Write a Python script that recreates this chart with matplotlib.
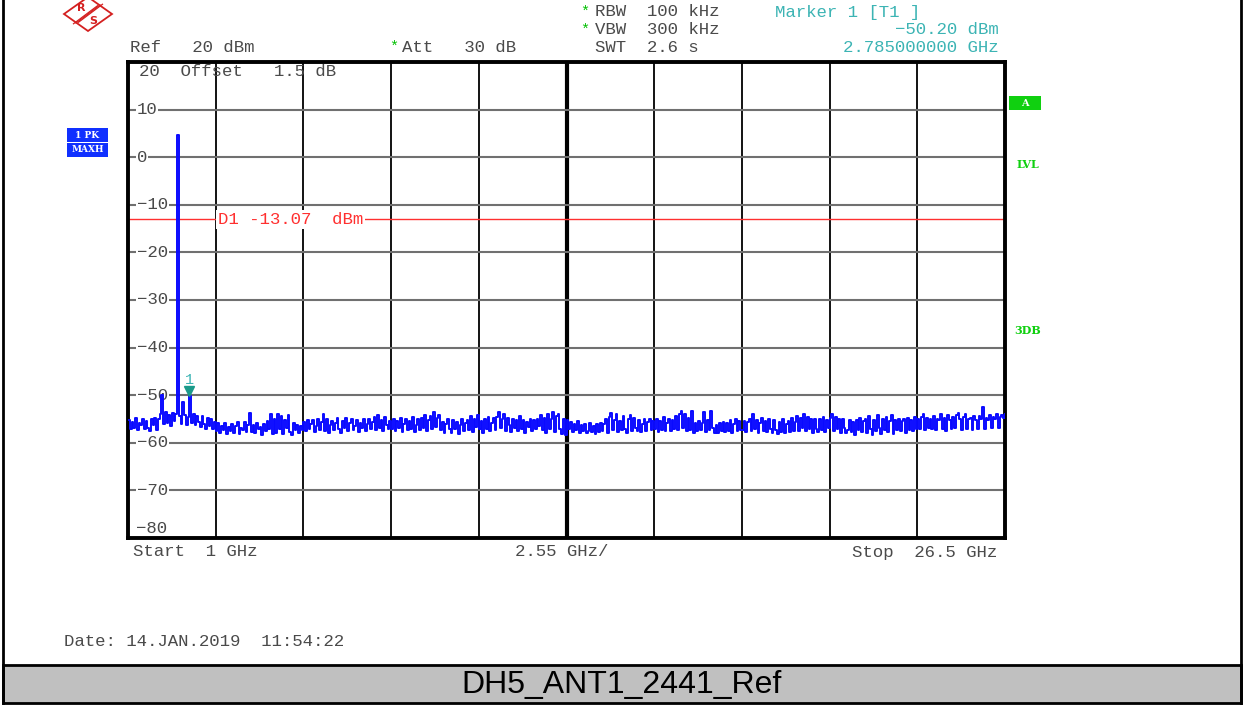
import numpy as np
import matplotlib
matplotlib.use("Agg")
import matplotlib.pyplot as plt
from matplotlib.patches import Rectangle, Polygon
import matplotlib.transforms as mtransforms

# sweep settings
f_start, f_stop = 1.0, 26.5          # GHz
n_points = 501
ref_level, bottom_level = 20, -80    # dBm
y_ticks = [10, 0, -10, -20, -30, -40, -50, -60, -70]
display_line = -13.07
marker_freq, marker_level = 2.785, -50.20

# MAXH trace, 501 sweep points (dBm)
trace = [
    -55.2, -57.1, -55.6, -56.9, -54.8, -57.4, -55.9, -56.3, -54.9, -57.0,
    -55.4, -56.8, -57.5, -55.1, -56.2, -54.7, -57.3, -55.0, -53.9, -50.0,
    -56.1, -53.6, -55.8, -54.2, -56.4, -53.8, -55.5, -54.0, 4.7, -54.3,
    -56.0, -51.4, -54.1, -56.2, -54.6, -50.2, -55.9, -53.9, -56.3, -54.4,
    -55.7, -56.6, -54.3, -56.1, -57.0, -54.8, -56.5, -55.1, -57.2, -55.6,
    -57.6, -55.9, -58.0, -56.4, -57.3, -55.8, -58.2, -56.7, -57.5, -56.0,
    -57.9, -56.5, -55.7, -58.1, -56.9, -57.4, -55.6, -57.8, -56.2, -53.7,
    -57.7, -56.3, -58.0, -55.9, -57.2, -56.6, -58.3, -56.1, -57.6, -55.4,
    -57.1, -54.0, -58.2, -55.0, -57.9, -53.9, -57.0, -54.4, -58.1, -55.3,
    -56.8, -54.2, -57.7, -58.3, -55.8, -57.4, -56.2, -58.0, -56.5, -57.3,
    -55.7, -57.6, -55.3, -57.1, -56.0, -55.2, -57.8, -56.4, -54.9, -57.3,
    -55.6, -53.9, -57.5, -55.0, -58.0, -56.2, -55.4, -57.4, -55.8, -54.8,
    -57.2, -57.9, -55.5, -56.8, -54.7, -57.6, -55.9, -55.1, -57.3, -56.5,
    -55.3, -57.7, -55.8, -56.9, -54.9, -57.5, -56.1, -55.0, -57.2, -55.7,
    -54.6, -57.4, -54.2, -56.8, -55.2, -57.6, -54.5, -56.3, -57.0, -55.4,
    -57.1, -55.0, -57.6, -55.4, -56.9, -54.8, -57.8, -56.0, -54.9, -57.3,
    -55.5, -57.2, -54.6, -57.7, -56.2, -55.1, -57.4, -54.7, -56.8, -54.2,
    -57.5, -55.3, -54.3, -57.0, -53.6, -56.6, -54.8, -54.1, -57.4, -55.6,
    -57.9, -56.1, -54.9, -57.2, -58.0, -55.3, -57.0, -55.7, -58.1, -56.2,
    -55.0, -57.6, -55.9, -55.2, -57.3, -54.3, -57.7, -54.9, -56.6, -54.1,
    -57.2, -55.4, -57.9, -55.0, -57.0, -54.6, -57.6, -55.8, -54.8, -57.4,
    -54.5, -53.6, -56.9, -55.1, -54.0, -57.5, -54.7, -56.3, -57.8, -55.0,
    -56.8, -55.3, -57.5, -54.4, -57.1, -55.2, -57.9, -55.6, -56.7, -54.9,
    -57.6, -55.2, -57.0, -54.9, -56.5, -54.2, -57.3, -54.7, -57.9, -54.0,
    -57.0, -55.1, -53.5, -57.7, -54.4, -53.9, -57.2, -58.2, -55.0, -58.4,
    -55.3, -57.2, -55.6, -57.7, -56.0, -57.4, -55.5, -57.9, -56.3, -57.5,
    -56.1, -58.0, -57.6, -55.9, -57.8, -56.4, -58.1, -56.0, -57.7, -55.8,
    -57.5, -56.0, -55.1, -57.9, -54.6, -53.8, -57.3, -55.2, -54.0, -57.8,
    -55.4, -57.4, -54.3, -57.1, -57.9, -55.0, -54.1, -57.6, -54.8, -56.9,
    -57.5, -55.3, -57.8, -56.0, -55.0, -57.6, -55.6, -54.9, -57.4, -55.5,
    -57.2, -55.0, -57.7, -55.4, -57.3, -54.6, -57.6, -55.8, -54.9, -57.5,
    -55.2, -57.1, -54.4, -57.4, -54.0, -53.3, -56.9, -53.9, -57.6, -54.8,
    -57.3, -53.4, -57.9, -55.8, -57.6, -55.4, -57.4, -55.9, -53.5, -57.7,
    -55.2, -57.3, -53.3, -56.8, -57.9, -56.2, -58.0, -55.9, -57.6, -55.6,
    -57.8, -55.9, -57.5, -55.3, -57.9, -56.0, -55.1, -57.6, -55.5, -57.3,
    -57.4, -55.4, -57.8, -55.7, -55.0, -57.5, -54.0, -57.2, -55.2, -57.9,
    -55.8, -54.8, -57.6, -55.5, -57.8, -54.9, -57.1, -57.9, -55.3, -57.4,
    -58.2, -55.6, -57.7, -55.0, -58.0, -56.1, -55.4, -57.8, -54.7, -57.5,
    -55.6, -54.3, -57.6, -54.8, -56.9, -53.9, -57.5, -54.6, -57.2, -55.1,
    -57.9, -54.9, -57.1, -57.8, -55.0, -57.3, -54.5, -57.7, -55.3, -56.9,
    -54.8, -53.9, -57.5, -54.6, -57.2, -55.0, -57.9, -54.9, -56.9, -58.0,
    -57.3, -55.2, -57.7, -55.6, -58.3, -55.3, -57.4, -54.7, -57.8, -55.5,
    -55.0, -57.9, -54.3, -57.2, -58.4, -55.2, -57.5, -54.1, -56.8, -58.1,
    -55.1, -57.4, -54.5, -57.8, -55.4, -54.2, -58.2, -55.3, -57.3, -54.9,
    -57.6, -55.5, -55.0, -57.9, -54.7, -57.3, -55.2, -57.5, -54.6, -57.0,
    -55.0, -57.2, -54.5, -53.9, -57.4, -54.8, -56.9, -55.1, -57.1, -54.4,
    -57.3, -54.9, -55.3, -54.0, -57.0, -54.7, -57.5, -54.2, -55.2, -57.2,
    -54.6, -56.9, -54.1, -53.8, -55.0, -57.3, -54.5, -53.9, -57.1, -55.1,
    -54.8, -57.4, -54.3, -55.2, -57.2, -54.4, -55.0, -52.5, -57.0, -54.7,
    -55.2, -54.2, -56.9, -54.6, -54.9, -54.0, -56.8, -54.5, -54.1, -54.7,
    -54.0,
]

W, H = 1244, 706
MONO = ["Liberation Mono", "DejaVu Sans Mono"]
TXT = "#4a4a4a"
TEAL = "#3cb4b4"
GREEN = "#10d010"
BLUE = "#1030ff"


def fx(px):
    return px / W


def fy(py):
    return 1 - py / H


fig = plt.figure(figsize=(W / 100, H / 100), dpi=100)
fig.patch.set_facecolor("white")

# plot area in pixels: x 128..1005, y 62..538
ax = fig.add_axes([fx(128), fy(538), fx(1005) - fx(128), fy(62) - fy(538)])
freq = np.linspace(f_start, f_stop, n_points)
ax.set_xlim(f_start, f_stop)
ax.set_ylim(bottom_level, ref_level)
ax.set_xticks([])
ax.set_yticks([])
for s in ax.spines.values():
    s.set_linewidth(2.8)
    s.set_color("black")

# grid
div = (f_stop - f_start) / 10
for i in range(1, 10):
    ax.axvline(f_start + i * div, color="black", lw=3.0 if i == 5 else 1.3, zorder=1)
for yv in y_ticks:
    ax.axhline(yv, color="#707070", lw=1.5, zorder=1)

# display line
ax.axhline(display_line, color="#ff3030", lw=1.0, zorder=2)
tr_px = mtransforms.blended_transform_factory(fig.transFigure, ax.transData)
ax.text(fx(218), display_line, "D1 -13.07  dBm", transform=tr_px,
        color="#ff3030", fontsize=12.5, family=MONO, va="center", ha="left",
        bbox=dict(facecolor="white", edgecolor="none", pad=1.5), zorder=3)

# trace
ax.step(freq, trace, where="post", color="#0a0aff", lw=1.4, zorder=4)

# marker 1
ax.plot([marker_freq], [marker_level + 1.0], marker="v", color="#1a9a8a",
        markersize=7, zorder=5, clip_on=False)
ax.text(marker_freq, marker_level + 3.4, "1", color=TEAL, fontsize=11,
        family=MONO, ha="center", va="center", zorder=5)

# level labels inside the grid
tr = mtransforms.blended_transform_factory(ax.transAxes, ax.transData)
for yv in y_ticks:
    lab = str(yv).replace("-", "\u2212")
    ax.text(0.010, yv, lab, transform=tr, fontsize=12.5, family=MONO,
            color=TXT, va="center", ha="left", zorder=3,
            bbox=dict(facecolor="white", edgecolor="none", pad=0.6))
ax.text(0.012, 18.1, "20  Offset   1.5 dB", transform=tr, fontsize=12.5,
        family=MONO, color=TXT, va="center", ha="left", zorder=3)
ax.text(0.009, -78.1, "\u221280", transform=tr, fontsize=12.5, family=MONO,
        color=TXT, va="center", ha="left", zorder=3)


def label(px, py, s, color=TXT, ha="left", size=12.5, **kw):
    fig.text(fx(px), fy(py), s, color=color, ha=ha, va="center",
             fontsize=size, family=MONO, **kw)


# header
label(130, 47, "Ref   20 dBm")
label(394, 47, "*", color="#00c000", ha="center", size=11)
label(402, 47, "Att   30 dB")
label(585, 12, "*", color="#00c000", ha="center", size=11)
label(595, 12, "RBW  100 kHz")
label(585, 30, "*", color="#00c000", ha="center", size=11)
label(595, 30, "VBW  300 kHz")
label(595, 47, "SWT  2.6 s")
label(775, 12, "Marker 1 [T1 ]", color=TEAL)
label(999, 30, "\u221250.20 dBm", color=TEAL, ha="right")
label(999, 47, "2.785000000 GHz", color=TEAL, ha="right")

# footer of the grid
label(133, 552, "Start  1 GHz")
label(515, 552, "2.55 GHz/")
label(997, 552, "Stop  26.5 GHz", ha="right")
label(64, 641, "Date: 14.JAN.2019  11:54:22")

# left status boxes
for py, s in [(135, "1 PK"), (150, "MAXH")]:
    fig.patches.append(Rectangle((fx(67), fy(py + 6.5)), fx(41), 13 / H,
                                 transform=fig.transFigure, facecolor=BLUE,
                                 edgecolor="none"))
    fig.text(fx(87.5), fy(py), s, color="white", ha="center", va="center",
             fontsize=6.5, family="DejaVu Serif", weight="bold")

# right side labels
fig.patches.append(Rectangle((fx(1009), fy(110)), fx(32), 14 / H,
                             transform=fig.transFigure, facecolor=GREEN,
                             edgecolor="none"))
fig.text(fx(1025), fy(103), "A", color="white", ha="center", va="center",
         fontsize=7, family="DejaVu Serif", weight="bold")
fig.text(fx(1028), fy(165), "LVL", color=GREEN, ha="center", va="center",
         fontsize=8, family="DejaVu Serif", weight="bold")
fig.text(fx(1028), fy(331), "3DB", color=GREEN, ha="center", va="center",
         fontsize=8, family="DejaVu Serif", weight="bold")

# R&S logo
red = "#d42020"
diamond = [(64, 14), (88, -3), (112, 14), (88, 31)]
fig.patches.append(Polygon([(fx(a), fy(b)) for a, b in diamond], closed=True,
                           transform=fig.transFigure, facecolor="white",
                           edgecolor=red, lw=1.3))
for off in (-2.5, 0, 2.5):
    fig.lines.append(plt.Line2D([fx(76 + off), fx(100 + off)],
                                [fy(23 - off * 0.3), fy(5 - off * 0.3)],
                                transform=fig.transFigure, color=red, lw=0.9))
fig.text(fx(81), fy(8), "R", color=red, fontsize=8, weight="bold",
         ha="center", va="center", family="DejaVu Sans")
fig.text(fx(93), fy(21), "S", color=red, fontsize=8, weight="bold",
         ha="center", va="center", family="DejaVu Sans")

# outer frame and title band
fig.patches.append(Rectangle((fx(3), fy(703)), fx(1238), 38 / H,
                             transform=fig.transFigure, facecolor="#c0c0c0",
                             edgecolor="black", lw=2.0))
for px in (3, 1241):
    fig.lines.append(plt.Line2D([fx(px), fx(px)], [fy(0), fy(703)],
                                transform=fig.transFigure, color="black", lw=2.0))
fig.text(fx(622), fy(685), "DH5_ANT1_2441_Ref", color="black", ha="center",
         va="center", fontsize=23, family="Liberation Sans")

fig.savefig("out.png", dpi=100)
